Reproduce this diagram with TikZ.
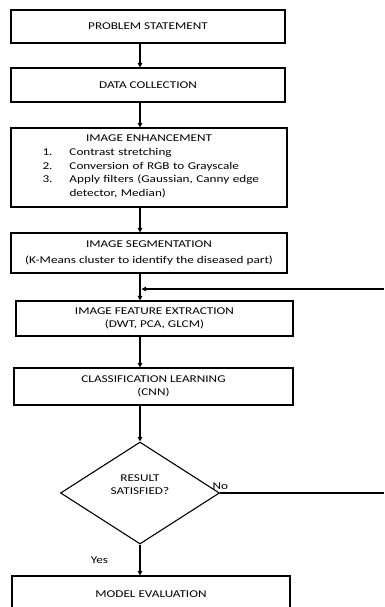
\documentclass[tikz,border=0pt]{standalone}
\usepackage{fontspec}
\setmainfont{Carlito}[FakeStretch=1.27]
\usepackage{tikz}
\usetikzlibrary{arrows.meta,shapes.geometric}
\setlength{\parindent}{0pt}

\begin{document}
\begin{tikzpicture}[x=1pt,y=-1pt,
		blk/.style 2 args={
			draw,
			rectangle,
			line width=1.1pt,
			minimum width=#1,
			minimum height=#2,
			inner sep=2pt,
			align=center},
		dec/.style={
			draw,
			diamond,
			line width=1.1pt,
			inner sep=0pt,
			minimum width=159pt,
			minimum height=102pt,
			align=center},
		flow/.style={line width=1.1pt, -{Triangle[length=4.5pt,width=4.5pt]}},
		font=\fontsize{10.4}{13.5}\selectfont
		]
		\useasboundingbox (0,0) rectangle (384,607);
		\coordinate (spine) at (140,0);
		\node[blk={274pt}{33pt}] (ps) at (148,26.5) {PROBLEM STATEMENT};
		\node[blk={274pt}{34pt}] (dc) at (148,85) {DATA COLLECTION};
		\node[blk={276pt}{79pt}, text width=270pt] (ie) at (149,167.5) {IMAGE ENHANCEMENT\par\vspace{4pt}\raggedright
			\fontsize{10.4}{13.4}\selectfont
			\begin{tabular}{@{\hspace{24pt}}p{27pt}@{}p{210pt}@{}}
				1. & Contrast stretching\\
				2. & Conversion of RGB to Grayscale\\
				3. & Apply filters (Gaussian, Canny edge\newline detector, Median)
			\end{tabular}};
		\node[blk={276pt}{40pt}, font=\fontsize{10.4}{16}\selectfont] (is) at (149,253) {IMAGE SEGMENTATION\\(K-Means cluster to identify the diseased part)};
		\node[blk={277pt}{35pt}] (fe) at (154.5,318.5) {IMAGE FEATURE EXTRACTION\\(DWT, PCA, GLCM)};
		\node[blk={279pt}{37pt}] (cl) at (153.5,386.5) {CLASSIFICATION LEARNING\\(CNN)};
		\node[dec] (dia) at (140,493) {RESULT\\SATISFIED?\\[3pt]};
		\node[blk={278pt}{36pt}] (me) at (151,594) {MODEL EVALUATION};
		\coordinate (fb) at (384,289);
		\coordinate (noend) at (384,493);
		\draw[flow] (ps.south -| spine) to (dc.north -| spine);
		\draw[flow] (dc.south -| spine) to (ie.north -| spine);
		\draw[flow] (ie.south -| spine) to (is.north -| spine);
		\draw[flow] (is.south -| spine) to (fe.north -| spine);
		\draw[flow] (fe.south -| spine) to (cl.north -| spine);
		\draw[flow] (cl.south -| spine) to (dia.north);
		\draw[flow] (dia.south) to node[left=28pt]{Yes} (me.north -| spine);
		\draw[line width=1.1pt] (dia.east) to node[pos=0, anchor=south west, xshift=-11pt, inner sep=3pt]{No} (noend);
		\draw[flow, shorten >=1.5pt] (fb) to (fb -| spine);
		\end{tikzpicture}
\end{document}
